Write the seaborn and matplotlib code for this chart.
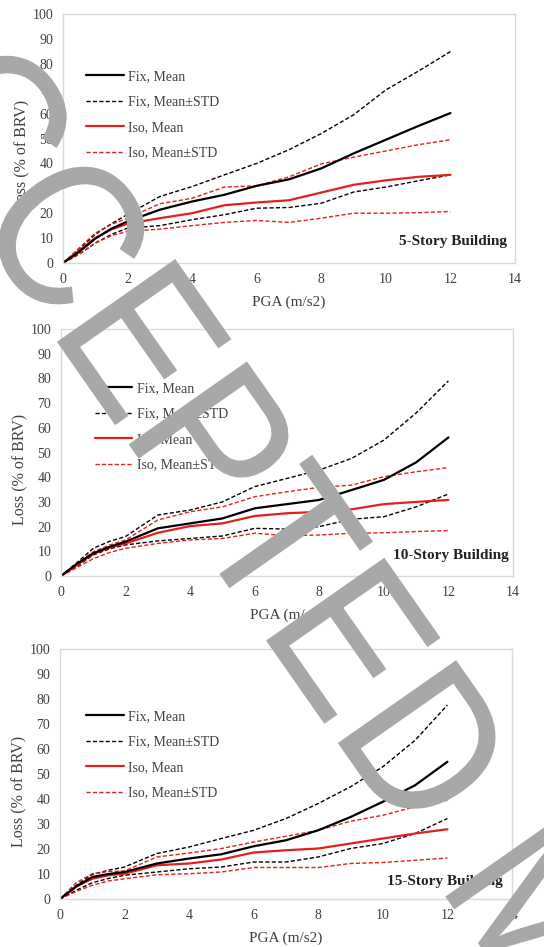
import numpy as np
import pandas as pd
import matplotlib
matplotlib.use("Agg")
import matplotlib.pyplot as plt
import seaborn as sns
from matplotlib.lines import Line2D
from matplotlib.patheffects import AbstractPathEffect
from matplotlib.transforms import Affine2D

sns.set_style("white")
plt.rcParams['font.family'] = ['Liberation Serif', 'DejaVu Serif']

pga = [0, 0.5, 1, 1.5, 2, 3, 4, 5, 6, 7, 8, 9, 10, 11, 12]

titles = ["5-Story Building", "10-Story Building", "15-Story Building"]

# 5-story
fix_mean_5 = [0, 4.5, 9.8, 13.8, 16.7, 21.4, 24.7, 27.4, 31.0, 33.6, 38.0, 44.0, 49.5, 55.0, 60.2]
fix_up_5   = [0, 5.5, 11.5, 15.8, 19.5, 26.7, 30.7, 35.4, 40.0, 45.5, 52.0, 59.5, 69.5, 77.0, 84.9]
fix_lo_5   = [0, 3.5, 8.0, 11.5, 14.0, 15.0, 17.4, 19.4, 22.0, 22.3, 24.0, 28.5, 30.5, 33.0, 35.4]
iso_mean_5 = [0, 5.0, 10.0, 13.5, 15.8, 18.0, 20.0, 23.2, 24.3, 25.2, 28.3, 31.4, 33.2, 34.6, 35.4]
iso_up_5   = [0, 6.0, 12.0, 15.5, 18.0, 23.8, 26.0, 30.5, 31.0, 34.6, 39.8, 42.5, 45.0, 47.5, 49.5]
iso_lo_5   = [0, 3.5, 8.0, 11.0, 12.7, 13.6, 15.0, 16.3, 17.1, 16.3, 18.0, 20.0, 20.0, 20.2, 20.7]

# 10-story
fix_mean_10 = [0, 5.0, 9.2, 11.8, 13.9, 19.3, 21.3, 23.3, 27.4, 29.1, 30.8, 34.8, 38.9, 46.0, 56.1]
fix_up_10   = [0, 5.5, 11.2, 14.0, 16.0, 24.7, 26.7, 30.0, 36.2, 39.5, 42.9, 47.6, 55.0, 66.0, 79.0]
fix_lo_10   = [0, 4.0, 8.5, 11.0, 12.6, 14.2, 15.2, 16.2, 19.3, 19.0, 20.0, 23.0, 24.0, 28.0, 33.2]
iso_mean_10 = [0, 4.5, 9.0, 11.5, 13.2, 17.5, 20.2, 21.3, 24.3, 25.4, 26.0, 27.0, 29.1, 30.0, 30.8]
iso_up_10   = [0, 5.0, 9.8, 12.5, 14.6, 22.7, 26.0, 28.0, 32.1, 34.1, 35.9, 36.8, 40.2, 42.2, 43.9]
iso_lo_10   = [0, 3.5, 7.0, 9.5, 11.2, 13.2, 14.6, 15.2, 17.3, 16.3, 16.6, 17.3, 17.5, 18.0, 18.4]

# 15-story
fix_mean_15 = [0, 5.0, 8.8, 10.0, 10.8, 14.2, 16.2, 17.9, 21.1, 23.5, 27.5, 32.8, 38.9, 45.5, 54.9]
fix_up_15   = [0, 5.5, 9.8, 11.5, 12.8, 18.2, 20.8, 24.2, 27.5, 32.2, 38.2, 44.9, 52.9, 63.5, 77.6]
fix_lo_15   = [0, 3.5, 6.5, 8.2, 9.5, 10.8, 12.1, 12.8, 14.8, 14.8, 16.8, 20.2, 22.2, 26.2, 32.2]
iso_mean_15 = [0, 5.0, 8.1, 9.5, 10.1, 13.5, 14.2, 15.8, 18.6, 19.5, 20.2, 22.2, 24.2, 26.2, 27.9]
iso_up_15   = [0, 6.5, 10.1, 11.0, 11.2, 16.8, 18.4, 20.2, 22.8, 25.1, 27.5, 31.1, 33.5, 36.9, 39.5]
iso_lo_15   = [0, 3.0, 5.5, 7.2, 8.1, 9.7, 10.1, 10.8, 12.6, 12.6, 12.6, 14.2, 14.6, 15.5, 16.4]

panels = [
    (fix_mean_5, fix_up_5, fix_lo_5, iso_mean_5, iso_up_5, iso_lo_5),
    (fix_mean_10, fix_up_10, fix_lo_10, iso_mean_10, iso_up_10, iso_lo_10),
    (fix_mean_15, fix_up_15, fix_lo_15, iso_mean_15, iso_up_15, iso_lo_15),
]

legend_labels = ["Fix, Mean", "Fix, Mean\u00b1STD", "Iso, Mean", "Iso, Mean\u00b1STD"]
watermark = "ACCEPTED MANUSCRIPT"

RED = "#e3201c"
BLACK = "#000000"
DASH = (0, (3.0, 1.6))


class GlyphStretch(AbstractPathEffect):
    """Stretch glyphs along their own vertical axis before rotation."""
    def __init__(self, sy):
        super().__init__()
        self.sy = sy

    def draw_path(self, renderer, gc, tpath, affine, rgbFace=None):
        renderer.draw_path(gc, tpath, Affine2D().scale(1.0, self.sy) + affine, rgbFace)


W, H = 544, 947
fig = plt.figure(figsize=(W / 100, H / 100), dpi=100)

# axes boxes in pixels: left, right, top, bottom
boxes = [(63, 515, 14, 263), (61, 513, 329, 576), (60, 512, 649, 899)]
leg_anchor = [(0.051, 0.775), (0.075, 0.785), (0.058, 0.756)]
title_pos = [(0.982, 0.088), (0.990, 0.085), (0.980, 0.072)]

for i, (box, data) in enumerate(zip(boxes, panels)):
    l, r, t, b = box
    ax = fig.add_axes([l / W, 1 - b / H, (r - l) / W, (b - t) / H])
    fm, fu, fl, im, iu, il = data
    df = pd.DataFrame({"PGA": pga, "fm": fm, "fu": fu, "fl": fl,
                       "im": im, "iu": iu, "il": il})
    sns.lineplot(data=df, x="PGA", y="fu", ax=ax, color=BLACK, lw=1.0, linestyle=DASH)
    sns.lineplot(data=df, x="PGA", y="fl", ax=ax, color=BLACK, lw=1.0, linestyle=DASH)
    sns.lineplot(data=df, x="PGA", y="iu", ax=ax, color=RED, lw=1.0, linestyle=DASH)
    sns.lineplot(data=df, x="PGA", y="il", ax=ax, color=RED, lw=1.0, linestyle=DASH)
    sns.lineplot(data=df, x="PGA", y="im", ax=ax, color=RED, lw=1.6)
    sns.lineplot(data=df, x="PGA", y="fm", ax=ax, color=BLACK, lw=1.6)

    ax.set_xlim(0, 14)
    ax.set_ylim(0, 100)
    ax.set_xticks(np.arange(0, 15, 2))
    ax.set_yticks(np.arange(0, 101, 10))
    ax.tick_params(length=0, labelsize=10, pad=7, colors="#404040")
    for s in ax.spines.values():
        s.set_color("#d9d9d9")
        s.set_linewidth(1.0)
    ax.set_xlabel("PGA (m/s2)", fontsize=11, color="#404040", labelpad=7)
    ax.set_ylabel("Loss (% of BRV)", fontsize=11.5, color="#404040")
    ax.yaxis.set_label_coords(-0.072, 0.43)

    handles = [
        Line2D([], [], color=BLACK, lw=1.6),
        Line2D([], [], color=BLACK, lw=1.0, linestyle=DASH),
        Line2D([], [], color=RED, lw=1.6),
        Line2D([], [], color=RED, lw=1.0, linestyle=DASH),
    ]
    ax.legend(handles, legend_labels, loc="upper left", bbox_to_anchor=leg_anchor[i],
              frameon=False, fontsize=10, handlelength=2.7, handletextpad=0.3,
              labelspacing=0.9, borderpad=0, borderaxespad=0, labelcolor="#404040")
    tx, ty = title_pos[i]
    ax.text(tx, ty, titles[i], transform=ax.transAxes, ha="right", va="center",
            fontsize=11, fontweight="bold", color="#222222")

# diagonal watermark overlay
fig.text(-179 / W, 1 - 5 / H, watermark, rotation=-55, rotation_mode="anchor",
         ha="left", va="baseline", fontsize=135, color="#a8a8a8",
         family=["Liberation Sans", "DejaVu Sans"], zorder=10,
         path_effects=[GlyphStretch(1.12)])

fig.savefig("out.png", dpi=100)
